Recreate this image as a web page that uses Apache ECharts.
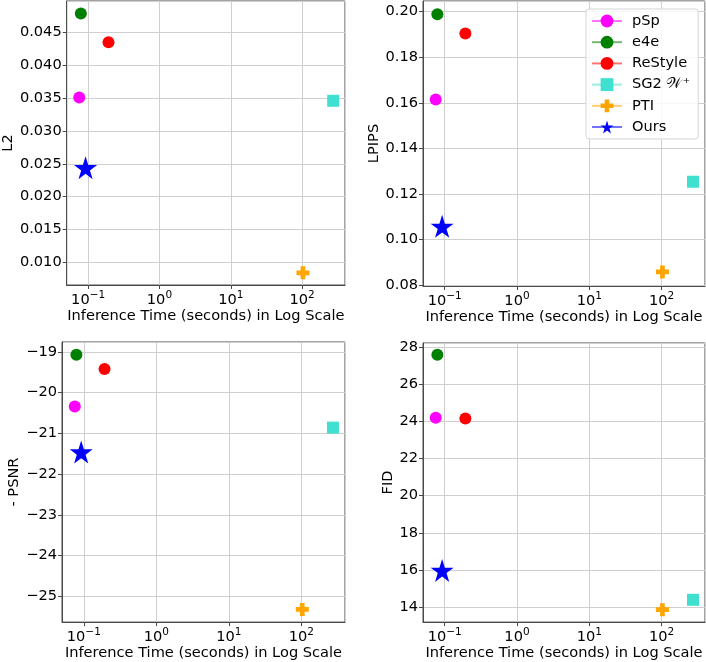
<!DOCTYPE html>
<html>
<head>
<meta charset="utf-8">
<script src="https://cdn.jsdelivr.net/npm/echarts@6/dist/echarts.min.js"></script>
<style>
html,body{margin:0;padding:0;background:#fff;}
#chart{width:706px;height:662px;}
</style>
</head>
<body>
<div id="chart"></div>
<script>
// ---- data ----
const methods = ['pSp', 'e4e', 'ReStyle', 'SG2 \uD835\uDCB2\u207A', 'PTI', 'Ours'];
const inferenceTime = [0.075, 0.079, 0.193, 273, 103, 0.092];
const l2Values = [0.0351, 0.0479, 0.0435, 0.0346, 0.0084, 0.0244];
const lpipsValues = [0.1614, 0.1989, 0.1904, 0.1253, 0.0857, 0.1057];
const negPsnrValues = [-20.34, -19.07, -19.42, -20.86, -25.32, -21.46];
const fidValues = [24.19, 27.58, 24.15, 14.40, 13.87, 15.98];
const yAxisNames = ['L2', 'LPIPS', '- PSNR', 'FID'];
const xAxisName = 'Inference Time (seconds) in Log Scale';

// ---- style ----
const FONT = 'DejaVu Sans';
const FS = 14.6;
const colors = ['#ff00ff', '#008000', '#ff0000', '#40e0d0', '#ffa500', '#0000ff'];
const STAR = 'path://M0,-1 L0.2245,-0.309 L0.951,-0.309 L0.363,0.118 L0.588,0.809 L0,0.382 L-0.588,0.809 L-0.363,0.118 L-0.951,-0.309 L-0.2245,-0.309 Z';
const PLUS = 'path://M-1,-0.36 L-0.36,-0.36 L-0.36,-1 L0.36,-1 L0.36,-0.36 L1,-0.36 L1,0.36 L0.36,0.36 L0.36,1 L-0.36,1 L-0.36,0.36 L-1,0.36 Z';
const symbols = ['circle', 'circle', 'circle', 'rect', PLUS, STAR];
const symbolSizes = [12, 12, 12, 12, 13, 23];

const grids = [
  {left: 62, top: 1, width: 283, height: 284},
  {left: 423, top: 1, width: 282, height: 285},
  {left: 62, top: 342, width: 283, height: 285},
  {left: 423, top: 343, width: 282, height: 284}
];
const yCfg = [
  {min: 0.00654, max: 0.0498, step: 0.005, dec: 3, gap: 49},
  {min: 0.0795, max: 0.2047, step: 0.02, dec: 2, gap: 41},
  {min: -25.63, max: -18.76, step: 1, dec: 0, gap: 40},
  {min: 13.2, max: 28.21, step: 2, dec: 0, gap: 27}
];
const allValues = [l2Values, lpipsValues, negPsnrValues, fidValues];

const gridColor = '#cfcfcf';
const frameColor = '#4a4a4a';

function logLabel(v) {
  const lg = Math.log10(v);
  const e = Math.round(lg);
  if (Math.abs(lg - e) > 1e-6) return '';
  const es = e < 0 ? '\u2212' + (-e) : String(e);
  return '{b|10}{s|' + es + '}';
}

const xAxes = [], yAxes = [], series = [];
grids.forEach((g, i) => {
  xAxes.push({
    type: 'log', logBase: 10, gridIndex: i, min: 0.05, max: 400,
    name: xAxisName, nameLocation: 'middle', nameGap: 15,
    nameTextStyle: {fontFamily: FONT, fontSize: FS, color: '#000'},
    axisLine: {show: true, lineStyle: {color: frameColor, width: 1}},
    axisTick: {show: true, length: 4, lineStyle: {color: frameColor}},
    axisLabel: {
      margin: 5, formatter: logLabel, showMinLabel: false, showMaxLabel: false,
      rich: {
        b: {fontFamily: FONT, fontSize: FS, color: '#000', lineHeight: 18, verticalAlign: 'bottom'},
        s: {fontFamily: FONT, fontSize: 10.5, color: '#000', lineHeight: 18, verticalAlign: 'top', padding: [0, 0, 6, 0]}
      }
    },
    splitLine: {show: true, lineStyle: {color: gridColor, width: 1}}
  });
  const c = yCfg[i];
  yAxes.push({
    type: 'value', gridIndex: i, min: c.min, max: c.max,
    minInterval: c.step, maxInterval: c.step, splitNumber: 8,
    name: yAxisNames[i], nameLocation: 'middle', nameGap: c.gap,
    nameTextStyle: {fontFamily: FONT, fontSize: FS, color: '#000'},
    axisLine: {show: true, lineStyle: {color: frameColor, width: 1}},
    axisTick: {show: true, length: 4, lineStyle: {color: frameColor}},
    axisLabel: {
      margin: 5, fontFamily: FONT, fontSize: FS, color: '#000',
      showMinLabel: false, showMaxLabel: false,
      formatter: v => {
        const s = v.toFixed(c.dec);
        return s.charAt(0) === '-' ? '\u2212' + s.slice(1) : s;
      }
    },
    splitLine: {show: true, lineStyle: {color: gridColor, width: 1}}
  });
  methods.forEach((m, k) => {
    series.push({
      type: 'line', name: m, xAxisIndex: i, yAxisIndex: i,
      data: [[inferenceTime[k], allValues[i][k]]],
      symbol: symbols[k], symbolSize: symbolSizes[k], showSymbol: true,
      itemStyle: {color: colors[k], opacity: 1},
      lineStyle: {color: colors[k], width: 1.5, opacity: 0.55},
      emphasis: {disabled: true}, silent: true, animation: false, z: 3
    });
  });
});

const chart = echarts.init(document.getElementById('chart'), null, {renderer: 'canvas'});
chart.setOption({
  backgroundColor: '#fff',
  animation: false,
  grid: grids.map(g => Object.assign({show: true, borderColor: frameColor, borderWidth: 1, backgroundColor: 'transparent', containLabel: false}, g)),
  xAxis: xAxes,
  yAxis: yAxes,
  legend: {
    data: methods,
    orient: 'vertical', left: 586, top: 9,
    itemWidth: 30, itemHeight: 16, itemGap: 5.2,
    padding: [4, 8, 4, 5],
    backgroundColor: 'rgba(255,255,255,0.85)',
    borderColor: '#d5d5d5', borderWidth: 1, borderRadius: 3,
    textStyle: {fontFamily: FONT, fontSize: FS, color: '#000', padding: [0, 0, 0, 5], lineHeight: 16},
    selectedMode: false, z: 10
  },
  series: series
});
</script>
</body>
</html>
